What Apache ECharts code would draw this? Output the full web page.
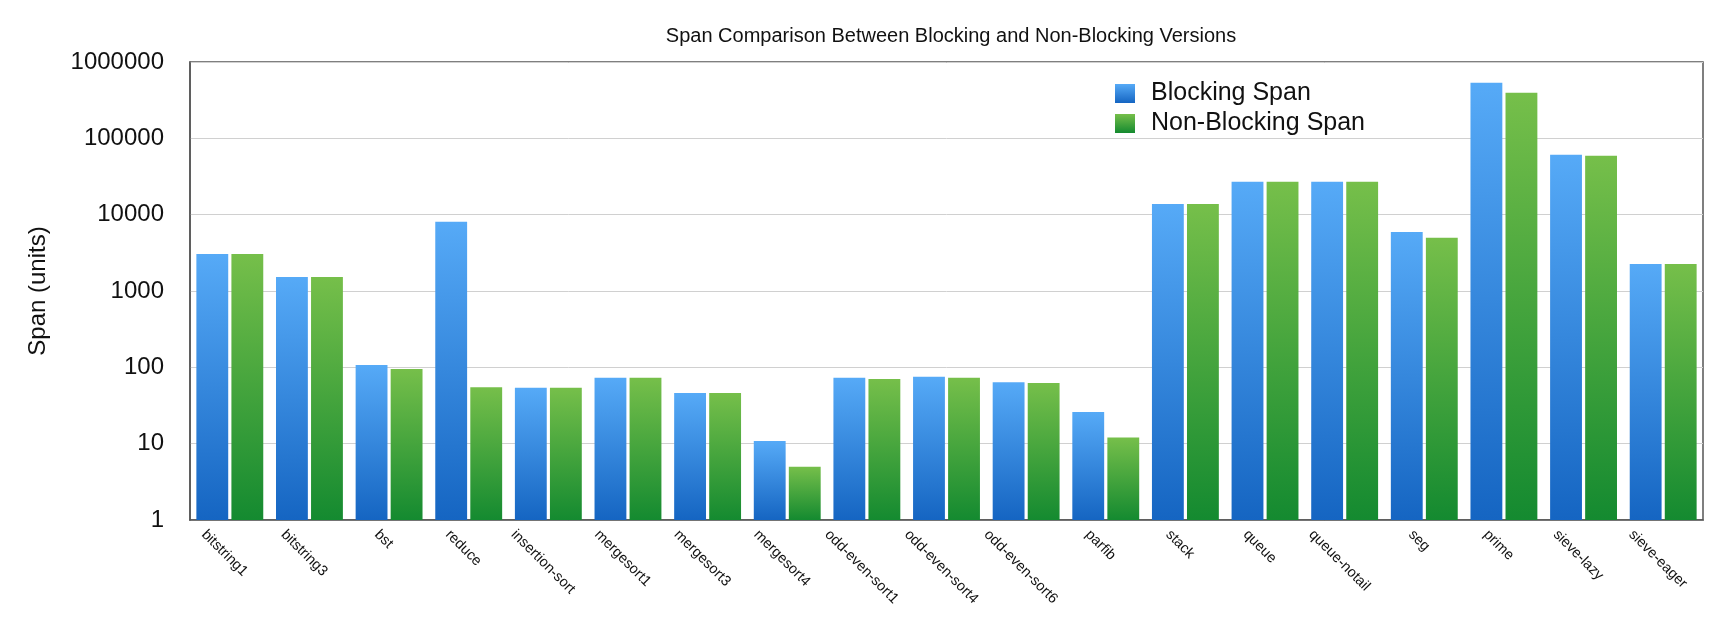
<!DOCTYPE html>
<html>
<head>
<meta charset="utf-8">
<script src="https://cdn.jsdelivr.net/npm/echarts@6/dist/echarts.min.js"></script>
<style>
html, body { margin: 0; padding: 0; background: #fff; }
#main { width: 1734px; height: 625px; }
</style>
</head>
<body>
<div id="main"></div>
<script>
var categories = ['bitstring1', 'bitstring3', 'bst', 'reduce', 'insertion-sort', 'mergesort1',
    'mergesort3', 'mergesort4', 'odd-even-sort1', 'odd-even-sort4', 'odd-even-sort6', 'parfib',
    'stack', 'queue', 'queue-notail', 'seg', 'prime', 'sieve-lazy', 'sieve-eager'];
var blockingSpan = [3060, 1530, 107, 8050, 54, 73, 46, 10.8, 73, 75, 64, 26,
    13800, 26900, 26900, 5950, 533000, 60800, 2265];
var nonBlockingSpan = [3060, 1530, 95, 55, 54, 73, 46, 5, 70.5, 73, 62.5, 12,
    13800, 26900, 26900, 5000, 395000, 59000, 2265];
var yTicks = ['1', '10', '100', '1000', '10000', '100000', '1000000'];

var labelFont = '14.5px "Liberation Sans", Arial, sans-serif';
var ctx = document.createElement('canvas').getContext('2d');
ctx.font = labelFont;

// shift every rotated label so it hangs centred under its category
var xData = categories.map(function (c) {
    var w = ctx.measureText(c).width;
    return {
        value: c,
        textStyle: { align: 'center', verticalAlign: 'top', padding: [w * 0.25, 0, 0, w * 0.5] }
    };
});

function grad(top, bottom) {
    return new echarts.graphic.LinearGradient(0, 0, 0, 1, [
        { offset: 0, color: top },
        { offset: 1, color: bottom }
    ]);
}
var blue = grad('#56aaf7', '#1565c2');
var green = grad('#76bf4a', '#148a30');

var myChart = echarts.init(document.getElementById('main'));
var option = {
    backgroundColor: '#fff',
    animation: false,
    textStyle: { fontFamily: '"Liberation Sans", Arial, sans-serif' },
    title: {
        text: 'Span Comparison Between Blocking and Non-Blocking Versions',
        left: 946, top: 21, textAlign: 'center',
        textStyle: { fontSize: 20, fontWeight: 'normal', color: '#111' }
    },
    legend: {
        orient: 'vertical',
        left: 1115, top: 81, padding: 0,
        itemWidth: 20, itemHeight: 19, itemGap: 5,
        textStyle: { fontSize: 25, color: '#111', padding: [0, 0, 0, 11] },
        data: [
            { name: 'Blocking Span', icon: 'rect', itemStyle: { color: blue } },
            { name: 'Non-Blocking Span', icon: 'rect', itemStyle: { color: green } }
        ]
    },
    grid: {
        left: 190, right: 31, top: 62, bottom: 105,
        show: true, borderColor: '#555', borderWidth: 1.5
    },
    xAxis: {
        type: 'category',
        data: xData,
        axisTick: { show: false },
        axisLine: { lineStyle: { color: '#555', width: 1.5 } },
        axisLabel: {
            interval: 0, rotate: -45, margin: 7,
            fontSize: 14.5, color: '#111'
        }
    },
    yAxis: {
        type: 'log',
        logBase: 10,
        min: 1, max: 1000000,
        name: 'Span (units)',
        nameLocation: 'middle',
        nameGap: 140,
        nameTextStyle: { fontSize: 24, color: '#111' },
        axisTick: { show: false },
        axisLine: { show: true, lineStyle: { color: '#555', width: 1.5 } },
        axisLabel: {
            fontSize: 24, color: '#111', margin: 26,
            formatter: function (v) {
                var i = Math.round(Math.log10(v));
                return yTicks[i];
            }
        },
        splitLine: { lineStyle: { color: '#d0d0d0', width: 1 } }
    },
    series: [
        {
            name: 'Blocking Span',
            type: 'bar',
            data: blockingSpan,
            barWidth: '40%',
            barGap: '10%',
            itemStyle: { color: blue }
        },
        {
            name: 'Non-Blocking Span',
            type: 'bar',
            data: nonBlockingSpan,
            barWidth: '40%',
            barGap: '10%',
            itemStyle: { color: green }
        }
    ]
};
myChart.setOption(option);
</script>
</body>
</html>
